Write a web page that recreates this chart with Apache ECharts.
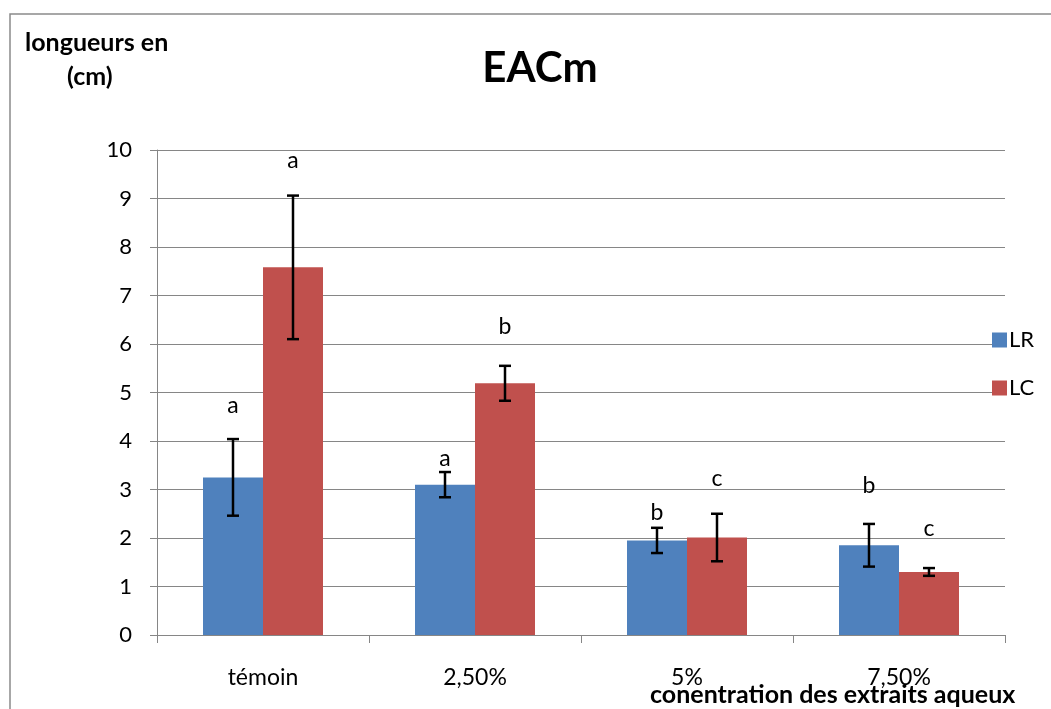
<!DOCTYPE html>
<html>
<head>
<meta charset="utf-8">
<script src="https://cdn.jsdelivr.net/npm/echarts@6/dist/echarts.min.js"></script>
<style>
  html, body { margin: 0; padding: 0; background: #fff; }
  #chart { width: 1051px; height: 709px; }
</style>
</head>
<body>
<div id="chart"></div>
<script>
const categories = ['témoin', '2,50%', '5%', '7,50%']
const lrValues = [3.25, 3.10, 1.95, 1.85]
const lcValues = [7.58, 5.19, 2.01, 1.30]
const lrErrors = [0.79, 0.26, 0.26, 0.44]
const lcErrors = [1.48, 0.36, 0.49, 0.08]
const lrLetters = ['a', 'a', 'b', 'b']
const lcLetters = ['a', 'b', 'c', 'c']
const lrLetterAt = [4.74, 3.64, 2.53, 3.09]
const lcLetterAt = [9.79, 6.35, 3.23, 2.20]

const font = 'Lato, "Open Sans", sans-serif'
const blue = '#4F81BD'
const red = '#C0504D'
const gridColor = '#868686'

// barre d'erreur + lettre, decalee sur la barre
function errorSeries(values, errors, letters, letterAt, dx) {
  return {
    type: 'custom',
    silent: true,
    z: 10,
    data: values.map((v, i) => [i, v]),
    renderItem(params, api) {
      const i = params.dataIndex
      const top = api.coord([i, values[i] + errors[i]])
      const bot = api.coord([i, values[i] - errors[i]])
      const lab = api.coord([i, letterAt[i]])
      const x = top[0] + dx
      const cap = 6
      const st = { stroke: '#000', lineWidth: 2.5 }
      return {
        type: 'group',
        children: [
          { type: 'line', shape: { x1: x, y1: top[1], x2: x, y2: bot[1] }, style: st },
          { type: 'line', shape: { x1: x - cap, y1: top[1], x2: x + cap, y2: top[1] }, style: st },
          { type: 'line', shape: { x1: x - cap, y1: bot[1], x2: x + cap, y2: bot[1] }, style: st },
          {
            type: 'text',
            style: {
              x: x, y: lab[1], text: letters[i], fill: '#000',
              font: '23px ' + font, align: 'center', verticalAlign: 'middle'
            }
          }
        ]
      }
    }
  }
}

const mychart = echarts.init(document.getElementById('chart'))
const option = {
  animation: false,
  title: {
    text: 'EACm',
    left: 535,
    top: 42,
    textAlign: 'center',
    textStyle: { fontFamily: font, fontSize: 42, fontWeight: 'bold', color: '#000' }
  },
  legend: {
    data: ['LR', 'LC'],
    orient: 'vertical',
    left: 987,
    top: 324,
    itemWidth: 15,
    itemHeight: 15,
    itemGap: 26,
    icon: 'rect',
    textStyle: { fontFamily: font, fontSize: 22, color: '#000', padding: [0, 0, 0, -3] }
  },
  graphic: [
    {
      type: 'rect',
      shape: { x: 10, y: 14, width: 1200, height: 900 },
      style: { fill: 'none', stroke: '#8a8a8a', lineWidth: 1.5 },
      silent: true
    },
    {
      type: 'text', left: 25, top: 30,
      style: { text: 'longueurs en', font: 'bold 25px ' + font, fill: '#000' }
    },
    {
      type: 'text', left: 67, top: 64,
      style: { text: '(cm)', font: 'bold 25px ' + font, fill: '#000' }
    },
    {
      type: 'text', left: 650, top: 682,
      style: { text: 'conentration des extraits aqueux', font: 'bold 25px ' + font, fill: '#000' }
    }
  ],
  grid: { left: 157, right: 46, top: 150, bottom: 74 },
  xAxis: {
    type: 'category',
    data: categories,
    axisLine: { lineStyle: { color: gridColor, width: 1 } },
    axisTick: { show: true, length: 8, lineStyle: { color: gridColor } },
    axisLabel: { fontFamily: font, fontSize: 23, color: '#000', margin: 31 }
  },
  yAxis: {
    type: 'value',
    min: 0,
    max: 10,
    interval: 1,
    axisLine: { show: true, lineStyle: { color: gridColor, width: 1 } },
    axisTick: { show: true, length: 7, lineStyle: { color: gridColor } },
    axisLabel: { fontFamily: font, fontSize: 22, color: '#000', margin: 25 },
    splitLine: { lineStyle: { color: gridColor, width: 1 } }
  },
  series: [
    {
      name: 'LR', type: 'bar', data: lrValues, barWidth: 60, barGap: '0%',
      itemStyle: { color: blue }
    },
    {
      name: 'LC', type: 'bar', data: lcValues, barWidth: 60, barGap: '0%',
      itemStyle: { color: red }
    },
    errorSeries(lrValues, lrErrors, lrLetters, lrLetterAt, -30),
    errorSeries(lcValues, lcErrors, lcLetters, lcLetterAt, 30)
  ]
}
mychart.setOption(option)
window.addEventListener('resize', () => {
  mychart.resize()
})
</script>
</body>
</html>
